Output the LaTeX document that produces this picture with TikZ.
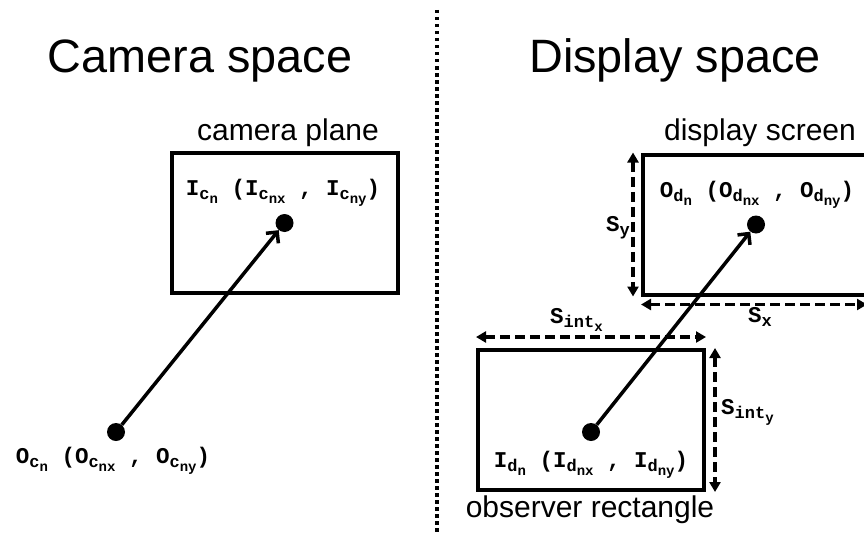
\documentclass[tikz,border=0pt]{standalone}
\usepackage{fontspec}
\setmainfont{Liberation Sans}
\setmonofont{Liberation Mono}
\usetikzlibrary{arrows.meta}
\newcommand{\subsub}[3]{#1\raisebox{-0.22em}{\fontsize{17}{17}\selectfont #2\raisebox{-0.2em}{\fontsize{14}{14}\selectfont #3}}}
\newcommand{\subone}[2]{#1\raisebox{-0.22em}{\fontsize{17}{17}\selectfont #2}}

\begin{document}
\begin{tikzpicture}[x=1pt,y=-1pt,
    plane/.style={draw,line width=4pt,inner sep=0pt,minimum width=226pt,minimum height=140pt},
    dot/.style={circle,fill,inner sep=0pt,minimum size=18pt},
    ray/.style={line width=3.5pt,-{Straight Barb[length=8pt,width=16pt]}},
    dimline/.style={line width=3.5pt,dash pattern=on 10pt off 5pt,
        {Triangle[length=10pt,width=11pt]}-{Triangle[length=10pt,width=11pt]}},
    title/.style={font=\fontsize{46.8}{56}\selectfont,anchor=base},
    caption/.style={font=\fontsize{30}{36}\selectfont,anchor=base},
    coord/.style={font=\fontsize{22.5}{27}\selectfont\ttfamily\bfseries,anchor=base,inner sep=0pt}]
    \useasboundingbox (0,0) rectangle (864,535);
    \coordinate (divtop) at (437,10);
    \coordinate (divbot) at (437,532);
    \draw[line width=3.5pt,dash pattern=on 3.5pt off 3.5pt] (divtop) -- (divbot);
    \begin{scope}
        \node[title] (camtitle) at (200,73) {Camera space};
        \node[caption] (camcap) at (288,140) {camera plane};
        \node[plane] (camplane) at (284.5,223) {};
        \node[dot] (Ic) at (camplane.center) {};
        \node[dot] (Oc) at (116,432) {};
        \draw[ray] (Oc) -- (Ic);
        \node[coord] (Iclab) at (283,195) {\subsub{I}{c}{n}~(\subsub{I}{c}{nx}~,~\subsub{I}{c}{ny})};
        \node[coord] (Oclab) at (113,463) {\subsub{O}{c}{n}~(\subsub{O}{c}{nx}~,~\subsub{O}{c}{ny})};
    \end{scope}
    \begin{scope}
        \node[title] (distitle) at (675,73) {Display space};
        \node[caption] (discap) at (760,140) {display screen};
        \node[plane] (screen) at (756,224.5) {};
        \node[dot] (Od) at (screen.center) {};
        \node[plane] (obs) at (591,420) {};
        \node[dot] (Id) at (591,432) {};
        \draw[ray] (Id) -- (Od);
        \node[caption] (obscap) at (590,517) {observer rectangle};
        \node[coord] (Odlab) at (757,197) {\subsub{O}{d}{n}~(\subsub{O}{d}{nx}~,~\subsub{O}{d}{ny})};
        \node[coord] (Idlab) at (591,467) {\subsub{I}{d}{n}~(\subsub{I}{d}{nx}~,~\subsub{I}{d}{ny})};
        \draw[dimline] ([xshift=-8pt]screen.north west) -- ([xshift=-8pt]screen.south west);
        \draw[dimline] ([yshift=-8pt]screen.south west) -- ([xshift=-4pt,yshift=-8pt]screen.south east);
        \draw[dimline] ([yshift=11pt]obs.north west) -- ([yshift=11pt]obs.north east);
        \draw[dimline] ([xshift=9pt]obs.north east) -- ([xshift=9pt]obs.south east);
        \node[coord,anchor=base west] (sylab) at (606,231) {\subone{S}{y}};
        \node[coord,anchor=base west] (sxlab) at (748,322) {\subone{S}{x}};
        \node[coord,anchor=base west] (sixlab) at (550,323) {\subsub{S}{int}{x}};
        \node[coord,anchor=base west] (siylab) at (721,414) {\subsub{S}{int}{y}};
    \end{scope}
\end{tikzpicture}
\end{document}
